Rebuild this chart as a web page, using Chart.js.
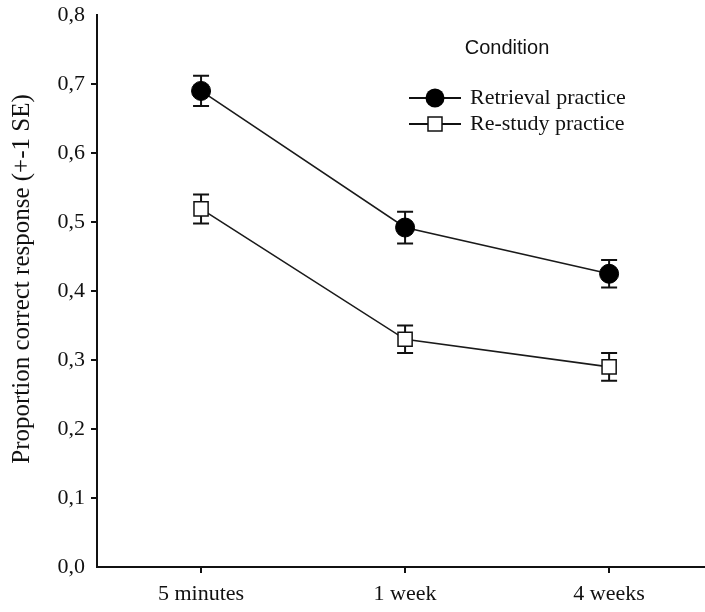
<!DOCTYPE html>
<html>
<head>
<meta charset="utf-8">
<script src="https://cdn.jsdelivr.net/npm/chart.js@4/dist/chart.umd.min.js"></script>
<style>
html,body{margin:0;padding:0;background:#fff;}
#wrap{width:705px;height:612px;position:relative;}
</style>
</head>
<body>
<div id="wrap"><canvas id="c" width="705" height="612"></canvas></div>
<script>
const categories = ["5 minutes", "1 week", "4 weeks"];
const retrievalMean = [0.690, 0.492, 0.425];
const retrievalSE = [0.022, 0.023, 0.020];
const restudyMean = [0.519, 0.330, 0.290];
const restudySE = [0.021, 0.020, 0.020];
const yTicks = [0, 0.1, 0.2, 0.3, 0.4, 0.5, 0.6, 0.7, 0.8];
const seriesNames = ["Retrieval practice", "Re-study practice"];
const legendTitle = "Condition";
const yTitle = "Proportion correct response (+-1 SE)";

const SERIF = '"Liberation Serif", "Times New Roman", serif';
const SANS = '"Liberation Sans", Arial, sans-serif';

const toPts = arr => arr.map((v, i) => ({x: i, y: v}));

const errorBars = {
  id: 'errorBars',
  beforeDatasetsDraw(chart) {
    const ctx = chart.ctx;
    const xs = chart.scales.x, ys = chart.scales.y;
    const sets = [[retrievalMean, retrievalSE], [restudyMean, restudySE]];
    ctx.save();
    ctx.strokeStyle = '#111';
    ctx.lineWidth = 2;
    sets.forEach(([m, se]) => {
      m.forEach((v, i) => {
        const x = xs.getPixelForValue(i);
        const yt = ys.getPixelForValue(v + se[i]);
        const yb = ys.getPixelForValue(v - se[i]);
        ctx.beginPath();
        ctx.moveTo(x, yt); ctx.lineTo(x, yb);
        ctx.moveTo(x - 8, yt); ctx.lineTo(x + 8, yt);
        ctx.moveTo(x - 8, yb); ctx.lineTo(x + 8, yb);
        ctx.stroke();
      });
    });
    ctx.restore();
  }
};

const yAxisTitle = {
  id: 'yAxisTitle',
  afterDraw(chart) {
    const ctx = chart.ctx;
    ctx.save();
    ctx.translate(22, 279);
    ctx.rotate(-Math.PI / 2);
    ctx.fillStyle = '#111';
    ctx.font = '25px ' + SERIF;
    ctx.textAlign = 'center';
    ctx.textBaseline = 'middle';
    ctx.fillText(yTitle, 0, 0);
    ctx.restore();
  }
};

const customLegend = {
  id: 'customLegend',
  afterDraw(chart) {
    const ctx = chart.ctx;
    ctx.save();
    ctx.fillStyle = '#111';
    ctx.font = '20px ' + SANS;
    ctx.textAlign = 'center';
    ctx.textBaseline = 'middle';
    ctx.fillText(legendTitle, 507, 48);
    const rows = [98, 124];
    rows.forEach((yy, k) => {
      ctx.strokeStyle = '#111';
      ctx.lineWidth = 2;
      ctx.beginPath();
      ctx.moveTo(409, yy); ctx.lineTo(461, yy);
      ctx.stroke();
      if (k === 0) {
        ctx.fillStyle = '#000';
        ctx.beginPath(); ctx.arc(435, yy, 9.5, 0, Math.PI * 2); ctx.fill();
      } else {
        ctx.fillStyle = '#fff';
        ctx.fillRect(428, yy - 7, 14, 14);
        ctx.lineWidth = 1.5;
        ctx.strokeRect(428, yy - 7, 14, 14);
      }
      ctx.fillStyle = '#111';
      ctx.font = '22px ' + SERIF;
      ctx.textAlign = 'left';
      ctx.fillText(seriesNames[k], 470, yy);
    });
    ctx.restore();
  }
};

new Chart(document.getElementById('c'), {
  type: 'line',
  data: {
    datasets: [
      {
        label: seriesNames[0],
        data: toPts(retrievalMean),
        borderColor: '#1a1a1a',
        borderWidth: 1.6,
        pointStyle: 'circle',
        pointRadius: 9.5,
        pointBackgroundColor: '#000',
        pointBorderColor: '#000',
        pointBorderWidth: 1,
        tension: 0
      },
      {
        label: seriesNames[1],
        data: toPts(restudyMean),
        borderColor: '#1a1a1a',
        borderWidth: 1.6,
        pointStyle: 'rect',
        pointRadius: 10,
        pointBackgroundColor: '#fff',
        pointBorderColor: '#111',
        pointBorderWidth: 1.5,
        tension: 0
      }
    ]
  },
  options: {
    responsive: false,
    animation: false,
    layout: {autoPadding: false, padding: {top: 15, right: 0, left: 0, bottom: 0}},
    plugins: {legend: {display: false}, tooltip: {enabled: false}},
    scales: {
      x: {
        type: 'linear',
        min: -0.51,
        max: 2.47,
        afterBuildTicks: s => { s.ticks = categories.map((c, i) => ({value: i})); },
        afterFit: s => { s.height = 45; s.paddingRight = 0; s.paddingLeft = 0; },
        ticks: {
          callback: v => categories[v] ?? '',
          font: {family: SERIF, size: 22},
          color: '#111',
          padding: 8,
          maxRotation: 0
        },
        grid: {drawOnChartArea: false, drawTicks: true, tickLength: 6, color: '#111', lineWidth: 2},
        border: {display: true, color: '#111', width: 2}
      },
      y: {
        min: 0,
        max: 0.8,
        afterBuildTicks: s => { s.ticks = yTicks.map(v => ({value: v})); },
        afterFit: s => { s.width = 97; s.paddingTop = 0; s.paddingBottom = 0; },
        ticks: {
          callback: v => v.toFixed(1).replace('.', ','),
          font: {family: SERIF, size: 22},
          color: '#111',
          padding: 6
        },
        title: {display: false},
        grid: {
          drawOnChartArea: false, drawTicks: true, tickLength: 6, lineWidth: 2,
          color: c => (c.tick && (c.tick.value === 0 || c.tick.value === 0.8)) ? 'rgba(0,0,0,0)' : '#111'
        },
        border: {display: true, color: '#111', width: 2}
      }
    }
  },
  plugins: [errorBars, customLegend, yAxisTitle]
});
</script>
</body>
</html>
